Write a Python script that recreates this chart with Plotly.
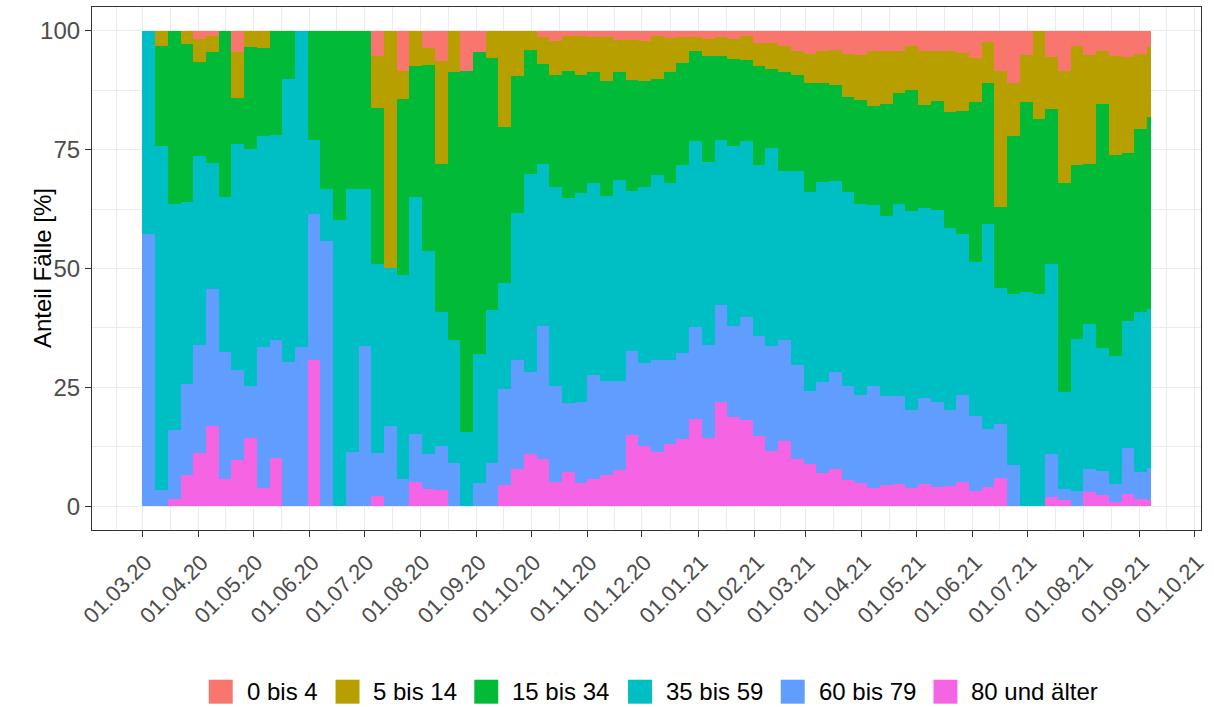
import pandas as pd
import plotly.graph_objects as go

# Weekly reporting periods (first day of each week); the last period is a partial week
week_start = pd.date_range("2020-03-01", periods=80, freq="7D")
data_end = pd.Timestamp("2021-09-07")

age_groups = ["0 bis 4", "5 bis 14", "15 bis 34", "35 bis 59", "60 bis 79", "80 und älter"]
colors = ["#F8766D", "#B79F00", "#00BA38", "#00BFC4", "#619CFF", "#F564E3"]

# Share of weekly cases per age group [%]
anteil_80plus = [0, 0, 1.5, 6.6, 11.3, 16.9, 5.7, 9.7, 14.4, 3.9,
                 10.2, 0, 0, 30.8, 0, 0, 0, 0, 2.1, 0,
                 0, 5.1, 3.7, 3.4, 0, 0, 0, 0, 4.4, 7.9,
                 11.0, 10.0, 5.2, 7.2, 4.8, 5.8, 6.5, 7.6, 14.9, 12.6,
                 11.4, 13.0, 14.1, 18.3, 14.4, 22.0, 18.7, 18.2, 14.8, 11.7,
                 13.7, 10.0, 8.8, 7.0, 7.9, 5.6, 4.8, 3.8, 4.4, 4.6,
                 3.8, 4.6, 4.1, 4.2, 5.2, 3.1, 4.1, 5.9, 0, 0,
                 0, 2.0, 1.3, 0, 3.0, 2.3, 0.9, 2.5, 1.6, 1.3]
anteil_60_79 = [57.2, 3.4, 14.6, 19.1, 22.7, 28.8, 26.8, 19.0, 10.8, 29.5,
                24.8, 30.3, 33.4, 30.7, 55.7, 0, 11.4, 33.6, 9.1, 16.8,
                5.8, 10.0, 7.2, 9.2, 9.0, 0, 4.8, 9.0, 20.3, 22.9,
                17.2, 28.0, 20.0, 14.5, 17.2, 21.7, 19.9, 18.8, 17.8, 17.5,
                19.4, 17.8, 18.1, 19.5, 19.5, 20.4, 19.3, 21.5, 20.9, 21.9,
                21.3, 19.6, 15.5, 19.1, 20.4, 19.6, 18.5, 21.4, 18.7, 18.5,
                16.5, 18.2, 17.9, 16.1, 18.1, 15.8, 12.2, 11.4, 8.6, 0,
                0, 9.0, 2.4, 3.1, 4.9, 5.1, 3.7, 9.7, 5.7, 6.7]
anteil_35_59 = [42.8, 72.3, 47.5, 38.2, 39.6, 26.5, 32.5, 47.5, 50.0, 44.4,
                43.0, 59.6, 66.6, 15.5, 11.1, 60.1, 55.4, 33.2, 39.8, 33.4,
                42.9, 49.9, 42.8, 28.2, 26.0, 15.6, 27.2, 32.3, 22.3, 30.8,
                41.6, 34.0, 42.0, 43.1, 43.8, 40.4, 38.8, 42.3, 33.7, 37.0,
                38.8, 37.2, 39.5, 39.0, 38.5, 34.6, 37.7, 37.1, 36.0, 41.8,
                35.6, 40.9, 41.8, 42.1, 40.1, 40.9, 40.2, 38.1, 37.9, 40.4,
                41.8, 39.9, 40.4, 38.3, 34.0, 32.4, 43.1, 28.6, 36.0, 45.1,
                44.6, 39.9, 20.3, 32.1, 30.4, 25.9, 26.9, 26.8, 33.5, 33.5]
anteil_15_34 = [0, 21.2, 36.4, 33.3, 19.8, 23.3, 35.0, 9.7, 21.4, 18.6,
                22.0, 10.1, 0, 23.0, 33.2, 39.9, 33.2, 33.2, 32.8, 0,
                37.0, 27.5, 39.2, 31.2, 56.3, 76.0, 63.5, 53.0, 32.7, 28.8,
                26.2, 21.0, 23.6, 26.7, 25.0, 23.4, 24.3, 22.6, 23.3, 22.4,
                20.3, 23.3, 21.5, 19.0, 22.4, 17.8, 18.4, 17.1, 20.8, 16.6,
                20.7, 20.1, 22.9, 20.8, 20.3, 19.9, 22.0, 20.8, 23.6, 23.4,
                25.5, 21.6, 22.8, 24.3, 25.9, 33.7, 29.6, 17.1, 33.2, 39.9,
                36.9, 32.7, 43.9, 36.5, 33.7, 51.3, 42.3, 35.3, 38.6, 40.3]
anteil_5_14 = [0, 3.1, 0, 2.8, 4.9, 3.3, 0, 9.6, 3.4, 3.6,
               0, 0, 0, 0, 0, 0, 0, 0, 10.8, 49.8,
               5.8, 7.5, 3.5, 21.7, 8.7, 0, 0, 5.7, 20.3, 9.6,
               4.0, 5.6, 7.1, 7.3, 8.0, 7.4, 9.1, 6.7, 8.4, 8.3,
               8.9, 7.2, 5.5, 2.9, 3.5, 3.8, 4.2, 4.9, 4.9, 5.4,
               5.4, 5.2, 6.1, 6.8, 7.3, 9.2, 9.4, 11.6, 11.1, 8.9,
               9.1, 11.4, 10.6, 12.9, 12.1, 9.3, 8.6, 28.5, 11.2, 10.0,
               18.5, 10.9, 23.7, 25.2, 23.0, 11.2, 20.8, 20.2, 15.8, 14.7]
anteil_0_4 = [0, 0, 0, 0, 1.7, 1.2, 0, 4.5, 0, 0,
              0, 0, 0, 0, 0, 0, 0, 0, 5.4, 0,
              8.5, 0, 3.6, 6.3, 0, 8.4, 4.5, 0, 0, 0,
              0, 1.4, 2.1, 1.2, 1.2, 1.3, 1.4, 2.0, 1.9, 2.2,
              1.2, 1.5, 1.3, 1.3, 1.7, 1.4, 1.7, 1.2, 2.6, 2.6,
              3.3, 4.2, 4.9, 4.2, 4.0, 4.8, 5.1, 4.3, 4.3, 4.2,
              3.3, 4.3, 4.2, 4.2, 4.7, 5.7, 2.4, 8.5, 11.0, 5.0,
              0, 5.5, 8.4, 3.1, 5.0, 4.2, 5.4, 5.5, 4.8, 3.5]

y_ticks = [0, 25, 50, 75, 100]

# Bars span their reporting period: centre and width from the period bounds
period_end = list(week_start[1:]) + [data_end]
bar_center = [s + (e - s) / 2 for s, e in zip(week_start, period_end)]
bar_width = [(e - s).total_seconds() * 1000 for s, e in zip(week_start, period_end)]

# ggplot-like 5 % expansion of the date scale
span = data_end - week_start[0]
x_range = [week_start[0] - 0.05 * span, data_end + 0.05 * span]

month_ticks = pd.date_range("2020-03-01", "2021-10-01", freq="MS")
month_grid = pd.date_range("2020-02-01", "2021-11-01", freq="MS")
minor_grid = [a + (b - a) / 2 for a, b in zip(month_grid[:-1], month_grid[1:])]

FONT = "Liberation Sans, Arial, sans-serif"

fig = go.Figure()
# stacked from the oldest age group at the bottom up to the youngest at the top
stack = [anteil_80plus, anteil_60_79, anteil_35_59, anteil_15_34, anteil_5_14, anteil_0_4]
for name, col, vals in zip(age_groups[::-1], colors[::-1], stack):
    fig.add_bar(x=bar_center, y=vals, width=bar_width, name=name,
                marker=dict(color=col, line=dict(width=0)), showlegend=False)

# plot area in pixels (figure 1214 x 707)
L, R, T, B = 92, 1203, 6, 530
W, H = 1214, 707

fig.update_layout(
    width=W, height=H,
    margin=dict(l=L, r=W - R, t=T, b=H - B),
    barmode="stack", bargap=0,
    paper_bgcolor="white", plot_bgcolor="white",
    font=dict(family=FONT, color="#000000"),
)
fig.update_xaxes(
    type="date", range=x_range,
    tickmode="array", tickvals=month_ticks,
    ticktext=[d.strftime("%d.%m.%y") for d in month_ticks],
    tickangle=-45, tickfont=dict(size=22, color="#4D4D4D", family=FONT),
    ticklabelstandoff=4, ticklabelshift=3,
    ticks="outside", ticklen=6, tickwidth=1.1, tickcolor="#333333",
    showgrid=True, gridcolor="#EBEBEB", gridwidth=1.1,
    minor=dict(tickmode="array", tickvals=minor_grid, showgrid=True,
               gridcolor="#EBEBEB", gridwidth=0.55, ticks=""),
    showline=True, mirror=True, linecolor="#333333", linewidth=1.1,
    zeroline=False,
)
fig.update_yaxes(
    range=[-5, 105], tickmode="array", tickvals=y_ticks,
    ticktext=[str(v) for v in y_ticks],
    tickfont=dict(size=24, color="#4D4D4D", family=FONT),
    ticks="outside", ticklen=6, tickwidth=1.1, tickcolor="#333333",
    showgrid=True, gridcolor="#EBEBEB", gridwidth=1.1,
    minor=dict(tickmode="array", tickvals=[12.5, 37.5, 62.5, 87.5], showgrid=True,
               gridcolor="#EBEBEB", gridwidth=0.55, ticks=""),
    showline=True, mirror=True, linecolor="#333333", linewidth=1.1,
    zeroline=False,
)

def px_x(p):
    return (p - L) / (R - L)

def px_y(p):
    return (B - p) / (B - T)

# y-axis title
fig.add_annotation(text="Anteil Fälle [%]", xref="paper", yref="paper",
                   x=px_x(27), y=px_y(268), textangle=-90, showarrow=False,
                   font=dict(size=24, family=FONT, color="#000000"))

# legend below the chart: coloured keys with labels
legend_left = [209, 336, 475, 629, 782, 935]
key_size = 24
legend_mid = 692
for name, col, x0 in zip(age_groups, colors, legend_left):
    fig.add_shape(type="rect", xref="paper", yref="paper",
                  x0=px_x(x0), x1=px_x(x0 + key_size),
                  y0=px_y(legend_mid + key_size / 2), y1=px_y(legend_mid - key_size / 2),
                  fillcolor=col, line=dict(width=0))
    fig.add_annotation(text=name, xref="paper", yref="paper",
                       x=px_x(x0 + key_size + 12), y=px_y(legend_mid),
                       xanchor="left", yanchor="middle", showarrow=False,
                       font=dict(size=24, family=FONT, color="#000000"))

fig.write_html("out.html")
